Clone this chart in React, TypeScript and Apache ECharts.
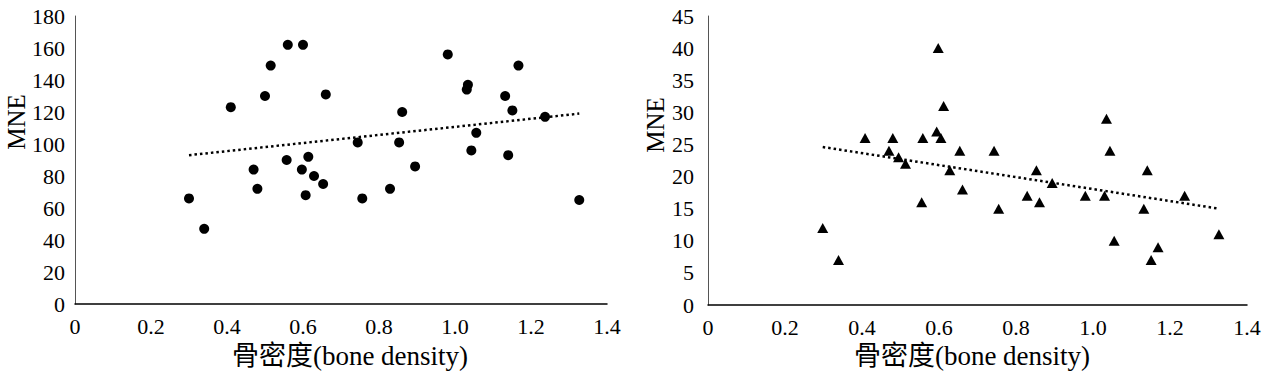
import React, { useEffect, useRef } from "react";
import * as echarts from "echarts";

// Left panel: bone density vs MNE (circles)
const leftX = [0.30, 0.34, 0.41, 0.47, 0.48, 0.50, 0.515, 0.56, 0.557, 0.60, 0.597, 0.607, 0.614, 0.629, 0.653, 0.66, 0.744, 0.756, 0.829, 0.853, 0.861, 0.895, 0.981, 1.031, 1.034, 1.043, 1.056, 1.132, 1.140, 1.151, 1.167, 1.237, 1.327];
const leftY = [66, 47, 123, 84, 72, 130, 149, 162, 90, 162, 84, 68, 92, 80, 75, 131, 101, 66, 72, 101, 120, 86, 156, 134, 137, 96, 107, 130, 93, 121, 149, 117, 65];
const leftTrendX = [0.30, 1.327];
const leftTrendY = [93, 119];

// Right panel: bone density vs MNE (triangles)
const rightX = [0.298, 0.339, 0.408, 0.47, 0.48, 0.495, 0.513, 0.558, 0.555, 0.598, 0.594, 0.605, 0.612, 0.628, 0.654, 0.661, 0.743, 0.755, 0.829, 0.853, 0.861, 0.894, 0.98, 1.030, 1.035, 1.044, 1.055, 1.132, 1.141, 1.151, 1.169, 1.238, 1.327];
const rightY = [12, 7, 26, 24, 26, 23, 22, 26, 16, 40, 27, 26, 31, 21, 24, 18, 24, 15, 17, 21, 16, 19, 17, 17, 29, 24, 10, 15, 21, 7, 9, 17, 11];
const rightTrendX = [0.298, 1.327];
const rightTrendY = [24.6, 15.0];

const xTitle = "骨密度(bone density)";
const yTitle = "MNE";

const SERIF = "Liberation Serif, DejaVu Serif, Noto Sans CJK SC, serif";
const TICK_FONT = "Liberation Serif";

const zip = (xs: number[], ys: number[]) => xs.map((x, i) => [x, ys[i]]);

export default function App() {
  const ref = useRef<HTMLDivElement>(null);

  useEffect(() => {
    if (!ref.current) return;
    const chart = echarts.init(ref.current, undefined, { renderer: "svg" });

    const tickRich = {
      t: { color: "#000", fontFamily: TICK_FONT, fontSize: 22, lineHeight: 24 },
    };

    const xAxisBase = (gridIndex: number) => ({
      type: "value" as const,
      gridIndex,
      min: 0,
      max: 1.4,
      interval: 0.2,
      axisLine: { show: true, lineStyle: { color: "#000", width: 1.5 } },
      axisTick: { show: false },
      splitLine: { show: false },
      axisLabel: {
        color: "#000",
        fontFamily: TICK_FONT,
        fontSize: 22,
        margin: 10,
        rich: tickRich,
        formatter: (v: number) => `{t|${v === 0 ? "0" : v.toFixed(1)}}`,
      },
    });

    const yAxisBase = (gridIndex: number, max: number, interval: number, margin: number) => ({
      type: "value" as const,
      gridIndex,
      min: 0,
      max,
      interval,
      axisLine: { show: true, lineStyle: { color: "#555", width: 1 } },
      axisTick: { show: false },
      splitLine: { show: false },
      axisLabel: {
        color: "#000",
        fontFamily: TICK_FONT,
        fontSize: 22,
        margin,
        rich: tickRich,
        formatter: (v: number) => `{t|${v}}`,
      },
    });

    const titleStyle = (text: string, size: number) => ({
      text,
      fill: "#000",
      fontFamily: SERIF,
      fontSize: size,
      align: "center" as const,
      verticalAlign: "middle" as const,
    });

    chart.setOption({
      animation: false,
      backgroundColor: "#fff",
      textStyle: { fontFamily: TICK_FONT },
      grid: [
        { left: 75, top: 16, width: 532, height: 288 },
        { left: 708, top: 16, width: 539, height: 289 },
      ],
      xAxis: [xAxisBase(0), xAxisBase(1)],
      yAxis: [yAxisBase(0, 180, 20, 10), yAxisBase(1, 45, 5, 14)],
      series: [
        {
          type: "scatter",
          xAxisIndex: 0,
          yAxisIndex: 0,
          symbol: "circle",
          symbolSize: 10,
          itemStyle: { color: "#000", opacity: 1 },
          data: zip(leftX, leftY),
        },
        {
          type: "line",
          xAxisIndex: 0,
          yAxisIndex: 0,
          symbol: "none",
          lineStyle: { color: "#000", width: 2.5, type: [2.5, 3] },
          data: zip(leftTrendX, leftTrendY),
        },
        {
          type: "scatter",
          xAxisIndex: 1,
          yAxisIndex: 1,
          symbol: "triangle",
          symbolSize: [11, 10],
          itemStyle: { color: "#000", opacity: 1 },
          data: zip(rightX, rightY),
        },
        {
          type: "line",
          xAxisIndex: 1,
          yAxisIndex: 1,
          symbol: "none",
          lineStyle: { color: "#000", width: 2.5, type: [2.5, 3] },
          data: zip(rightTrendX, rightTrendY),
        },
      ],
      graphic: [
        { type: "text", x: 350, y: 356, style: titleStyle(xTitle, 27) },
        { type: "text", x: 972, y: 356, style: titleStyle(xTitle, 27) },
        { type: "text", x: 16, y: 122, rotation: Math.PI / 2, style: titleStyle(yTitle, 25) },
        { type: "text", x: 655, y: 125, rotation: Math.PI / 2, style: titleStyle(yTitle, 25) },
      ],
    });

    return () => chart.dispose();
  }, []);

  return (
    <div
      ref={ref}
      style={{ position: "fixed", left: 0, top: 0, width: 1271, height: 372, background: "#fff" }}
    />
  );
}
